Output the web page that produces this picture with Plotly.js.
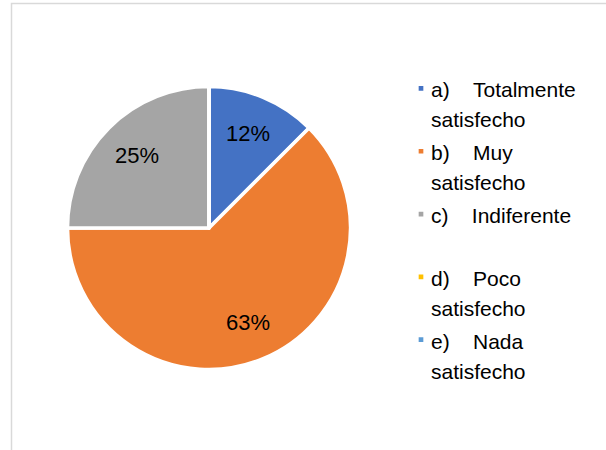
<!DOCTYPE html>
<html>
<head>
<meta charset="utf-8">
<script src="https://cdn.plot.ly/plotly-3.0.1.min.js"></script>
<style>
  html, body { margin: 0; padding: 0; background: #fff; }
  #chart { width: 606px; height: 450px; }
  .legendpie { transform: translate(30px, 0px) scale(0.55); }
</style>
</head>
<body>
<div id="chart"></div>
<script>
// ---- data ----
var letters = ['a)', 'b)', 'c)', 'd)', 'e)'];
var categories = ['Totalmente satisfecho', 'Muy satisfecho', 'Indiferente', 'Poco satisfecho', 'Nada satisfecho'];
var shares = [12.5, 62.5, 25, 0, 0];            // slice sizes (angles: 45°, 225°, 90°)
var pctLabels = ['12%', '63%', '25%', '', ''];  // labels as printed on the chart
var colors = ['#4472C4', '#ED7D31', '#A5A5A5', '#FFC000', '#5B9BD5'];

// legend text: "x)   First<br>rest"
var legendFont = 21;
function buildLabel(letter, name) {
  var i = name.indexOf(' ');
  var first = i < 0 ? name : name.slice(0, i);
  var rest = i < 0 ? '\u00A0' : name.slice(i + 1);
  var sp = '<span style="font-size:' + legendFont + 'px">';
  return sp + letter + '\u00A0\u00A0\u00A0\u00A0' + first + '</span><br>' + sp + rest + '</span>';
}
var labels = letters.map(function (l, k) { return buildLabel(l, categories[k]); });

var W = 606, H = 450;
var cx = 209, cy = 228, R = 141.5;

var trace = {
  type: 'pie',
  labels: labels,
  values: shares,
  text: pctLabels,
  textinfo: 'none',
  sort: false,
  direction: 'clockwise',
  rotation: 0,
  marker: { colors: colors, line: { color: '#FFFFFF', width: 3.5 } },
  hoverinfo: 'label+percent',
  domain: { x: [(cx - R) / W, (cx + R) / W], y: [(H - cy - R) / H, (H - cy + R) / H] },
  showlegend: true
};

// percentage labels placed along each slice's bisector (derived from the shares)
var total = shares.reduce(function (a, b) { return a + b; }, 0);
var annotations = [];
var cum = 0;
shares.forEach(function (v, k) {
  var mid = (cum + v / 2) / total * 2 * Math.PI;
  cum += v;
  if (!v) return;
  var rr = 0.73 * 140;
  var px = cx + rr * Math.sin(mid);
  var py = cy - rr * Math.cos(mid);
  annotations.push({
    xref: 'paper', yref: 'paper', x: px / W, y: (H - py) / H,
    xanchor: 'center', yanchor: 'middle', showarrow: false,
    text: pctLabels[k],
    font: { family: 'Liberation Sans, Arial, sans-serif', size: 22, color: '#000000' }
  });
});

var layout = {
  width: W, height: H,
  margin: { l: 0, r: 0, t: 0, b: 0 },
  paper_bgcolor: '#FFFFFF',
  showlegend: true,
  legend: {
    x: 391 / W, xanchor: 'left',
    y: (H - 67) / H, yanchor: 'top',
    valign: 'top',
    bgcolor: 'rgba(0,0,0,0)',
    font: { family: 'Liberation Sans, Arial, sans-serif', size: 23, color: '#000000' },
    traceorder: 'normal'
  },
  annotations: annotations,
  shapes: [{
    type: 'rect', xref: 'paper', yref: 'paper',
    x0: 11.5 / W, x1: 1.05, y0: -0.05, y1: (H - 3.5) / H,
    line: { color: '#D9D9D9', width: 1.5 }, fillcolor: 'rgba(0,0,0,0)', layer: 'below'
  }]
};

Plotly.newPlot('chart', [trace], layout, { displayModeBar: false, staticPlot: true });
</script>
</body>
</html>
